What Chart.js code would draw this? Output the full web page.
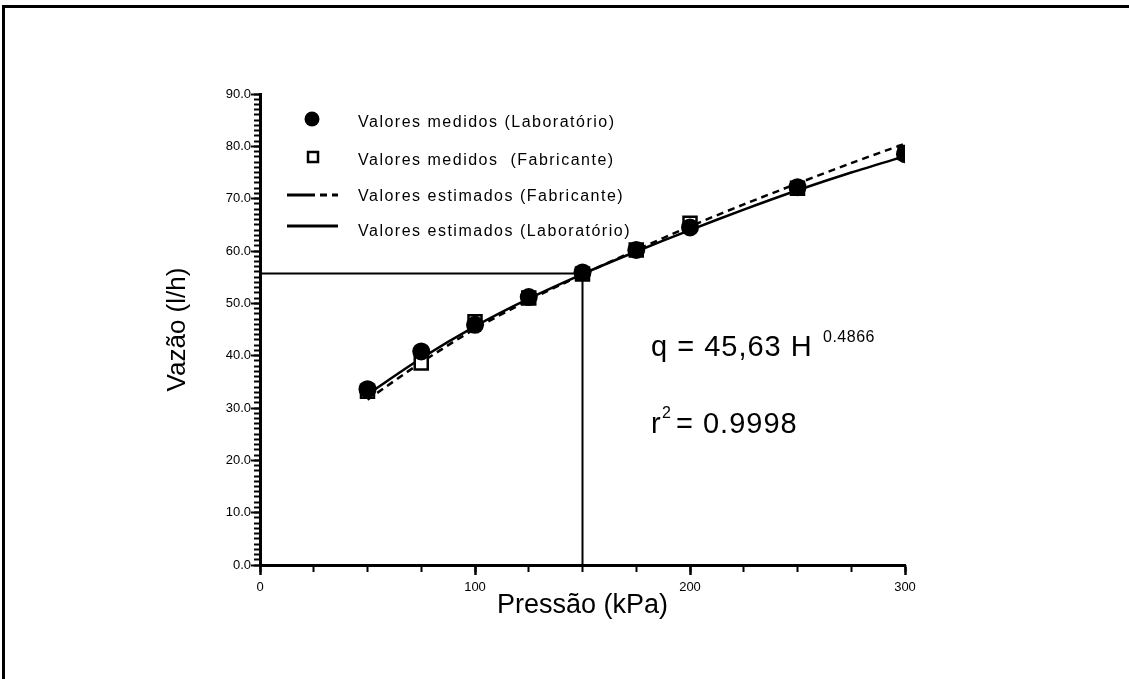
<!DOCTYPE html>
<html>
<head>
<meta charset="utf-8">
<script src="https://cdn.jsdelivr.net/npm/chart.js@4.4.1/dist/chart.umd.min.js"></script>
<style>
  body { margin: 0; background: #fff; }
  #frame { position: absolute; left: 2px; top: 5px; width: 1200px; height: 800px;
           border-top: 3px solid #000; border-left: 3px solid #000; }
  #chart { position: absolute; left: 0; top: 0; }
</style>
</head>
<body>
<div id="frame"></div>
<canvas id="chart" width="1129" height="679"></canvas>
<script>
// measured points (kPa -> l/h)
const pressures = [50, 75, 100, 125, 150, 175, 200, 250, 300];
const labMeasured = [33.6, 40.8, 45.9, 51.2, 55.9, 60.2, 64.5, 72.2, 78.5];
const fabMeasured = [33.2, 38.6, 46.5, 51.0, 55.6, 60.2, 65.3, 72.0, 78.8];

// fitted curves
const estPressures = [50, 75, 100, 125, 150, 175, 200, 225, 250, 275, 300];
const labEstimated = [32.6, 39.5, 45.6, 50.9, 55.6, 59.9, 64.0, 67.9, 71.6, 75.0, 78.1];
const fabEstimated = [31.6, 38.7, 45.1, 50.6, 55.5, 60.2, 64.7, 68.9, 72.9, 76.8, 80.5];

// reference lines at 150 kPa
const markPressure = 150;
const markFlow = 55.7;

const legendLabels = [
  'Valores medidos (Laboratório)',
  'Valores medidos  (Fabricante)',
  'Valores estimados (Fabricante)',
  'Valores estimados (Laboratório)'
];

const toXY = (xs, ys) => xs.map((x, i) => ({ x: x, y: ys[i] }));
const FONT = '"Liberation Sans", Arial, Helvetica, sans-serif';

Chart.defaults.color = '#000';
Chart.defaults.font.family = FONT;

// legend + equation drawn on top
const notes = {
  id: 'notes',
  afterDraw(chart) {
    const ctx = chart.ctx;
    ctx.save();
    ctx.fillStyle = '#000';
    ctx.strokeStyle = '#000';
    ctx.textBaseline = 'middle';
    ctx.font = '16px ' + FONT;
    ctx.letterSpacing = '1.5px';
    const textX = 358;
    const rows = [123, 161, 197, 232];
    const marks = [119, 157, 195, 226];
    legendLabels.forEach((t, i) => ctx.fillText(t, textX, rows[i]));
    ctx.letterSpacing = '0px';

    // circle
    ctx.beginPath();
    ctx.arc(312, marks[0], 7.5, 0, Math.PI * 2);
    ctx.fill();
    // square
    ctx.lineWidth = 2.5;
    ctx.strokeRect(308, marks[1] - 5, 10, 10);
    // dashed
    ctx.lineWidth = 3;
    ctx.setLineDash([28, 5, 7, 5]);
    ctx.beginPath();
    ctx.moveTo(287, marks[2]);
    ctx.lineTo(338, marks[2]);
    ctx.stroke();
    ctx.setLineDash([]);
    ctx.beginPath();
    ctx.moveTo(287, marks[3]);
    ctx.lineTo(338, marks[3]);
    ctx.stroke();

    // equation
    ctx.textBaseline = 'alphabetic';
    ctx.font = '29px ' + FONT;
    ctx.letterSpacing = '1px';
    ctx.fillText('q = 45,63 H', 651, 356);
    ctx.fillText('r', 651, 433);
    ctx.fillText('= 0.9998', 676, 433);
    ctx.font = '16px ' + FONT;
    ctx.letterSpacing = '0.5px';
    ctx.fillText('0.4866', 823, 342);
    ctx.fillText('2', 662, 418);
    ctx.restore();
  }
};

const fixWidth = w => scale => { scale.width = w; };
const fixHeight = h => scale => { scale.height = h; };

new Chart(document.getElementById('chart'), {
  type: 'scatter',
  data: {
    datasets: [
      {
        label: 'marca',
        data: [{ x: 0, y: markFlow }, { x: markPressure, y: markFlow }, { x: markPressure, y: 0 }],
        showLine: true, borderColor: '#000', borderWidth: 2, pointRadius: 0, order: 5
      },
      {
        label: legendLabels[2],
        data: toXY(estPressures, fabEstimated),
        showLine: true, borderColor: '#000', borderWidth: 2.5, borderDash: [7, 5],
        pointRadius: 0, tension: 0.3, order: 4
      },
      {
        label: legendLabels[3],
        data: toXY(estPressures, labEstimated),
        showLine: true, borderColor: '#000', borderWidth: 2.5,
        pointRadius: 0, tension: 0.3, order: 3
      },
      {
        label: legendLabels[1],
        data: toXY(pressures, fabMeasured),
        pointStyle: 'rect', pointRadius: 9.2, pointBackgroundColor: '#fff',
        pointBorderColor: '#000', pointBorderWidth: 2.5, order: 2
      },
      {
        label: legendLabels[0],
        data: toXY(pressures, labMeasured),
        pointStyle: 'circle', pointRadius: 9, pointBackgroundColor: '#000',
        pointBorderColor: '#000', pointBorderWidth: 0, order: 1
      }
    ]
  },
  options: {
    responsive: false,
    animation: false,
    layout: { padding: { left: 148, right: 224, top: 94, bottom: 57 } },
    plugins: { legend: { display: false }, tooltip: { enabled: false } },
    scales: {
      x: {
        type: 'linear', min: 0, max: 300, weight: 1,
        ticks: { stepSize: 100, padding: 5, maxRotation: 0, font: { size: 13 } },
        grid: { drawOnChartArea: false, tickLength: 10, tickWidth: 2.5, tickColor: '#000' },
        border: { display: true, color: '#000', width: 3 },
        title: { display: true, text: 'Pressão (kPa)', font: { size: 27 }, padding: { top: 0, bottom: 0 } },
        afterFit: fixHeight(57)
      },
      xMinor: {
        type: 'linear', position: 'bottom', min: 0, max: 300, weight: 0,
        ticks: { stepSize: 25, display: false, autoSkip: false },
        grid: { drawOnChartArea: false, tickLength: 7, tickWidth: 2, tickColor: '#000' },
        border: { display: false },
        afterFit: fixHeight(0)
      },
      y: {
        type: 'linear', min: 0, max: 90, weight: 1,
        ticks: { stepSize: 10, padding: 0, font: { size: 13 }, callback: v => v.toFixed(1) },
        grid: { drawOnChartArea: false, tickLength: 9, tickWidth: 2, tickColor: '#000' },
        border: { display: true, color: '#000', width: 3 },
        title: { display: true, text: 'Vazão (l/h)', font: { size: 26 }, padding: { top: 14.4, bottom: 0 } },
        afterFit: fixWidth(112)
      },
      yMinor: {
        type: 'linear', position: 'left', min: 0, max: 90, weight: 0,
        ticks: { stepSize: 1, display: false, autoSkip: false },
        grid: { drawOnChartArea: false, tickLength: 6, tickWidth: 2, tickColor: '#000' },
        border: { display: false },
        afterFit: fixWidth(0)
      }
    }
  },
  plugins: [notes]
});
</script>
</body>
</html>
